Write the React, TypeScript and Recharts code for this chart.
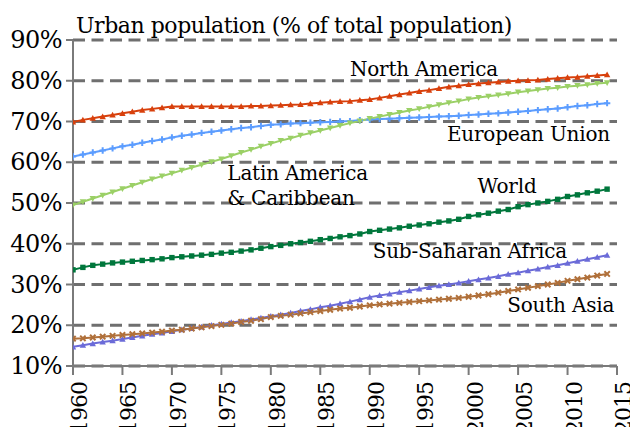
import React from 'react';
import { LineChart, Line, XAxis, YAxis, CartesianGrid, ReferenceDot } from 'recharts';

const years = [
  1960, 1961, 1962, 1963, 1964, 1965, 1966, 1967, 1968, 1969,
  1970, 1971, 1972, 1973, 1974, 1975, 1976, 1977, 1978, 1979,
  1980, 1981, 1982, 1983, 1984, 1985, 1986, 1987, 1988, 1989,
  1990, 1991, 1992, 1993, 1994, 1995, 1996, 1997, 1998, 1999,
  2000, 2001, 2002, 2003, 2004, 2005, 2006, 2007, 2008, 2009,
  2010, 2011, 2012, 2013, 2014,
];

const northAmerica = [
  69.9, 70.4, 70.8, 71.2, 71.6, 72.0, 72.4, 72.8, 73.1, 73.4,
  73.7, 73.7, 73.7, 73.7, 73.7, 73.7, 73.7, 73.7, 73.8, 73.8,
  73.9, 74.0, 74.1, 74.2, 74.4, 74.6, 74.8, 74.9, 75.0, 75.2,
  75.4, 75.8, 76.2, 76.6, 77.0, 77.4, 77.7, 78.1, 78.5, 78.8,
  79.1, 79.3, 79.5, 79.7, 79.9, 80.0, 80.1, 80.2, 80.4, 80.6,
  80.8, 80.9, 81.1, 81.3, 81.5,
];

const europeanUnion = [
  61.4, 61.9, 62.4, 62.9, 63.4, 63.9, 64.3, 64.8, 65.2, 65.6,
  66.1, 66.5, 66.8, 67.2, 67.5, 67.8, 68.1, 68.4, 68.6, 68.9,
  69.2, 69.3, 69.5, 69.6, 69.7, 69.8, 69.9, 70.0, 70.1, 70.3,
  70.5, 70.6, 70.7, 70.8, 70.9, 71.0, 71.1, 71.2, 71.3, 71.4,
  71.6, 71.7, 71.9, 72.0, 72.2, 72.4, 72.6, 72.8, 73.0, 73.2,
  73.5, 73.8, 74.0, 74.3, 74.5,
];

const latinAmerica = [
  49.5, 50.3, 51.1, 51.9, 52.7, 53.5, 54.3, 55.1, 55.9, 56.6,
  57.3, 58.0, 58.7, 59.4, 60.1, 60.8, 61.6, 62.4, 63.1, 63.9,
  64.6, 65.3, 65.9, 66.6, 67.2, 67.8, 68.4, 69.0, 69.6, 70.1,
  70.7, 71.2, 71.7, 72.2, 72.7, 73.1, 73.6, 74.1, 74.6, 75.0,
  75.5, 75.9, 76.2, 76.5, 76.8, 77.2, 77.5, 77.8, 78.1, 78.3,
  78.6, 78.8, 79.0, 79.3, 79.5,
];

const world = [
  33.6, 34.2, 34.7, 35.0, 35.3, 35.5, 35.7, 35.9, 36.1, 36.3,
  36.6, 36.8, 37.0, 37.2, 37.4, 37.7, 37.9, 38.2, 38.5, 38.9,
  39.3, 39.6, 40.0, 40.3, 40.6, 41.0, 41.3, 41.7, 42.0, 42.4,
  43.0, 43.3, 43.6, 43.9, 44.3, 44.6, 44.9, 45.3, 45.6, 46.0,
  46.7, 47.1, 47.5, 48.0, 48.4, 49.1, 49.6, 50.0, 50.4, 50.9,
  51.6, 52.0, 52.5, 52.9, 53.4,
];

const subSaharanAfrica = [
  14.7, 15.1, 15.5, 15.9, 16.2, 16.6, 17.0, 17.4, 17.8, 18.1,
  18.5, 18.9, 19.2, 19.6, 20.0, 20.3, 20.7, 21.0, 21.4, 21.8,
  22.2, 22.6, 23.0, 23.5, 23.9, 24.4, 24.8, 25.3, 25.8, 26.3,
  26.9, 27.3, 27.7, 28.1, 28.5, 28.9, 29.3, 29.7, 30.0, 30.4,
  30.8, 31.2, 31.6, 32.0, 32.5, 32.9, 33.4, 33.8, 34.3, 34.7,
  35.2, 35.7, 36.2, 36.7, 37.2,
];

const southAsia = [
  16.7, 16.8, 17.0, 17.2, 17.4, 17.6, 17.8, 18.0, 18.2, 18.4,
  18.7, 18.9, 19.2, 19.5, 19.8, 20.1, 20.4, 20.8, 21.1, 21.5,
  22.0, 22.3, 22.6, 22.9, 23.2, 23.5, 23.8, 24.1, 24.3, 24.6,
  24.9, 25.1, 25.3, 25.5, 25.7, 25.9, 26.1, 26.3, 26.5, 26.7,
  27.0, 27.3, 27.6, 28.0, 28.4, 28.8, 29.2, 29.6, 30.0, 30.4,
  30.9, 31.3, 31.7, 32.2, 32.6,
];

const yTicks = [10, 20, 30, 40, 50, 60, 70, 80, 90];
const xTicks = [1960, 1965, 1970, 1975, 1980, 1985, 1990, 1995, 2000, 2005, 2010, 2015];
const titleText = 'Urban population (% of total population)';

const seriesLabels = [
  { text: 'North America', year: 1988.0, value: 81.2 },
  { text: 'European Union', year: 1997.8, value: 65.2 },
  { text: 'Latin America', year: 1975.6, value: 55.6 },
  { text: '& Caribbean', year: 1975.6, value: 49.5 },
  { text: 'World', year: 2000.9, value: 52.5 },
  { text: 'Sub-Saharan Africa', year: 1990.3, value: 36.5 },
  { text: 'South Asia', year: 2003.9, value: 23.3 },
];

const FONT = 'DejaVu Serif';

const series = [
  { key: 'northAmerica', values: northAmerica, color: '#d8400c', shape: 'triangle' },
  { key: 'europeanUnion', values: europeanUnion, color: '#5c9dff', shape: 'plus' },
  { key: 'latinAmerica', values: latinAmerica, color: '#9bd066', shape: 'triangleDown' },
  { key: 'world', values: world, color: '#00773c', shape: 'square' },
  { key: 'subSaharanAfrica', values: subSaharanAfrica, color: '#6b6bd8', shape: 'triangle' },
  { key: 'southAsia', values: southAsia, color: '#b0703a', shape: 'cross' },
];

const data = years.map((year, i) => {
  const row: any = { year };
  series.forEach((s) => {
    row[s.key] = s.values[i];
  });
  return row;
});

function Marker({ cx, cy, color, shape }: any) {
  if (cx == null || cy == null) return null;
  const s = 3.2;
  switch (shape) {
    case 'triangle':
      return <path d={`M${cx},${cy - s} L${cx + s},${cy + s * 0.8} L${cx - s},${cy + s * 0.8} Z`} fill={color} />;
    case 'triangleDown':
      return <path d={`M${cx},${cy + s} L${cx + s},${cy - s * 0.8} L${cx - s},${cy - s * 0.8} Z`} fill={color} />;
    case 'square':
      return <rect x={cx - 2.7} y={cy - 2.7} width={5.4} height={5.4} fill={color} />;
    case 'plus':
      return (
        <path d={`M${cx - s},${cy} L${cx + s},${cy} M${cx},${cy - s} L${cx},${cy + s}`} stroke={color} strokeWidth={2} />
      );
    case 'cross':
    default:
      return (
        <path
          d={`M${cx - 2.7},${cy - 2.7} L${cx + 2.7},${cy + 2.7} M${cx - 2.7},${cy + 2.7} L${cx + 2.7},${cy - 2.7}`}
          stroke={color}
          strokeWidth={2}
        />
      );
  }
}

function YTick({ x, y, payload }: any) {
  return (
    <text x={x} y={y} textAnchor="end" dominantBaseline="central" fontSize={24} fontFamily={FONT} letterSpacing={-0.5} fill="#000">
      {`${payload.value}%`}
    </text>
  );
}

function XTick({ x, y, payload }: any) {
  return (
    <g transform={`translate(${x},${y}) rotate(-90)`}>
      <text x={0} y={14} textAnchor="end" fontSize={22} fontFamily={FONT} letterSpacing={-1} fill="#000">
        {payload.value}
      </text>
    </g>
  );
}

export default function App() {
  return (
    <div style={{ position: 'absolute', left: 0, top: 0, width: 630, height: 427, background: '#fff', fontFamily: FONT }}>
      <LineChart width={630} height={427} data={data} margin={{ top: 40, right: 13, bottom: 0, left: 0 }}>
        <CartesianGrid
          vertical={false}
          horizontal={true}
          stroke="#6f6f6f"
          strokeWidth={3}
          strokeDasharray="12 6.5"
        />
        <XAxis
          dataKey="year"
          type="number"
          domain={[1960, 2015]}
          ticks={xTicks}
          interval={0}
          height={61}
          tickSize={9}
          tickMargin={7}
          axisLine={{ stroke: '#7a7a7a', strokeWidth: 2 }}
          tickLine={{ stroke: '#7a7a7a', strokeWidth: 2 }}
          tick={<XTick />}
          allowDataOverflow
        />
        <YAxis
          type="number"
          domain={[10, 90]}
          ticks={yTicks}
          interval={0}
          width={73}
          tickSize={7}
          tickMargin={4}
          axisLine={{ stroke: '#7a7a7a', strokeWidth: 2 }}
          tickLine={{ stroke: '#7a7a7a', strokeWidth: 2 }}
          tick={<YTick />}
          allowDataOverflow
        />
        {series.map((s) => (
          <Line
            key={s.key}
            dataKey={s.key}
            type="linear"
            stroke={s.color}
            strokeWidth={2}
            isAnimationActive={false}
            dot={(props: any) => (
              <Marker key={`${s.key}-${props.index}`} cx={props.cx} cy={props.cy} color={s.color} shape={s.shape} />
            )}
            activeDot={false}
          />
        ))}
        {seriesLabels.map((l) => (
          <ReferenceDot
            key={l.text}
            x={l.year}
            y={l.value}
            r={0}
            ifOverflow="visible"
            shape={(p: any) => (
              <text x={p.cx} y={p.cy} textAnchor="start" fontSize={20} fontFamily={FONT} letterSpacing={-0.2} fill="#000">
                {l.text}
              </text>
            )}
          />
        ))}
      </LineChart>
      <svg width={630} height={427} style={{ position: 'absolute', left: 0, top: 0, pointerEvents: 'none' }}>
        <text x={76} y={33} fontSize={22} fontFamily={FONT} letterSpacing={-0.45} fill="#000">
          {titleText}
        </text>
      </svg>
    </div>
  );
}
